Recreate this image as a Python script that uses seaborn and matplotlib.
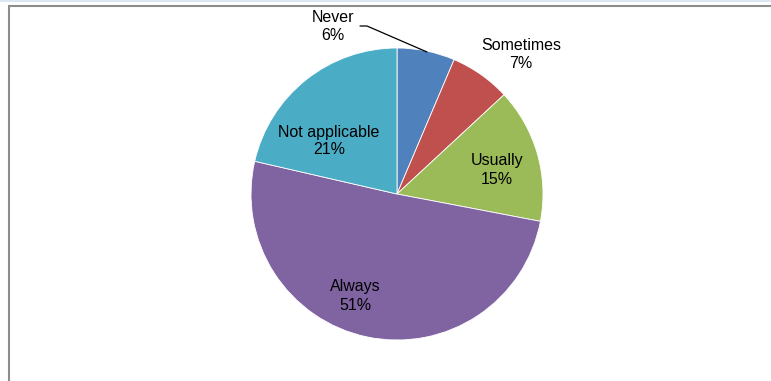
import matplotlib
matplotlib.use("Agg")
import matplotlib.pyplot as plt
import seaborn as sns
from matplotlib.lines import Line2D

# data
categories = ["Never", "Sometimes", "Usually", "Always", "Not applicable"]
shares = [6.4, 6.7, 14.9, 50.6, 21.4]
pct_labels = ["6%", "7%", "15%", "51%", "21%"]
colors = ["#4F81BD", "#C0504D", "#9BBB59", "#8064A2", "#4BACC6"]

sns.set_theme(style="white")
plt.rcParams["font.family"] = ["Liberation Sans", "DejaVu Sans"]
palette = sns.color_palette(colors)

W, H = 771, 381
fig = plt.figure(figsize=(W / 100, H / 100), dpi=100)
ax = fig.add_axes([0, 0, 1, 1])

# pixel helpers (y measured from top)
cx, cy, r = 397, 194, 146
ax.pie(shares, colors=palette, startangle=90, counterclock=False,
       center=(cx, H - cy), radius=r,
       wedgeprops=dict(edgecolor="white", linewidth=0.6))
ax.set_xlim(0, W)
ax.set_ylim(0, H)
ax.set_aspect("equal")
ax.axis("off")

# label positions in pixels
label_pos = {
    "Never": (333, 26),
    "Sometimes": (521, 55),
    "Usually": (497, 170),
    "Always": (355, 296),
    "Not applicable": (329, 141),
}
for cat, pct in zip(categories, pct_labels):
    x, y = label_pos[cat]
    ax.text(x, H - y, f"{cat}\n{pct}", ha="center", va="center",
            fontsize=11.5, color="black", linespacing=1.25)

# leader line for "Never"
ax.plot([360, 367, 427], [H - 26, H - 26, H - 52], color="black", lw=0.9)

# frame of the chart area
fig.add_artist(Line2D([0, 1], [1 - 1 / H, 1 - 1 / H], color="#dce6f2", lw=1.5))
fig.add_artist(Line2D([8.5 / W, 1], [1 - 5.5 / H, 1 - 5.5 / H], color="#8c8c8c", lw=1.5))
fig.add_artist(Line2D([8.5 / W, 8.5 / W], [0, 1 - 5.5 / H], color="#8c8c8c", lw=1.5))

fig.savefig("out.png", dpi=100, facecolor="white")
